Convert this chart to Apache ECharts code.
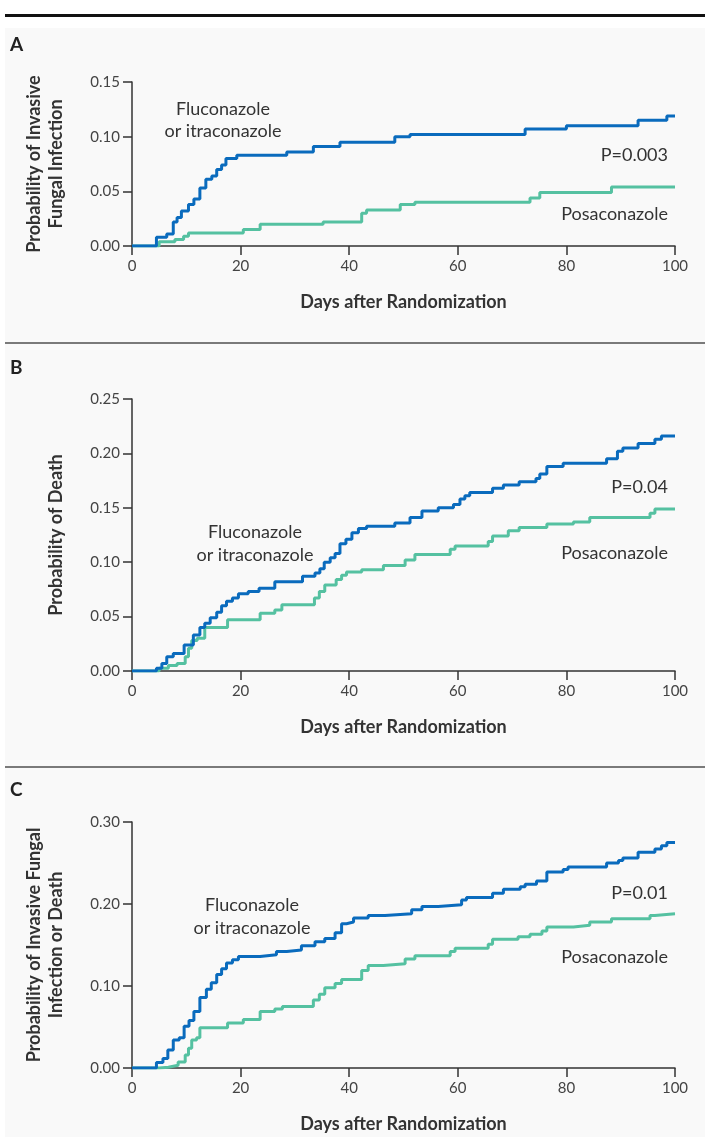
<!DOCTYPE html>
<html>
<head>
<meta charset="utf-8">
<script src="https://cdn.jsdelivr.net/npm/echarts@6/dist/echarts.min.js"></script>
<style>
  html, body { margin: 0; padding: 0; background: #fff; }
  #chart { width: 705px; height: 1137px; }
</style>
</head>
<body>
<div id="chart"></div>
<script>
// panel A: invasive fungal infection
var aFluDays = [0, 4.5, 6.4, 7.6, 8.3, 9.1, 10.4, 11.4, 12.5, 13.6, 14.7, 15.6, 16.5, 17.3, 19.3, 28.5, 33.4, 38.3, 48.4, 51.2, 72.4, 80.0, 93.2, 98.5, 100];
var aFluProb = [0, 0.008, 0.011, 0.022, 0.026, 0.032, 0.038, 0.043, 0.053, 0.061, 0.064, 0.070, 0.074, 0.080, 0.083, 0.086, 0.091, 0.095, 0.100, 0.102, 0.107, 0.110, 0.115, 0.119, 0.119];
var aPosDays = [0, 5.0, 7.9, 9.5, 10.4, 20.5, 23.6, 35.2, 42.3, 43.2, 49.4, 52.1, 73.3, 75.1, 88.3, 100];
var aPosProb = [0, 0.004, 0.006, 0.009, 0.012, 0.015, 0.020, 0.022, 0.030, 0.033, 0.038, 0.040, 0.044, 0.049, 0.054, 0.054];

// panel B: death
var bFluDays = [0, 4.5, 5.5, 6.4, 7.6, 9.6, 11.3, 12.5, 13.4, 14.4, 15.6, 16.5, 17.4, 18.5, 19.6, 21.4, 23.4, 26.3, 31.4, 33.7, 34.6, 35.4, 36.5, 37.4, 38.3, 39.4, 40.5, 41.7, 43.2, 48.4, 51.2, 53.4, 56.4, 59.2, 60.4, 61.3, 62.2, 66.4, 68.4, 71.3, 74.4, 75.1, 76.4, 79.4, 87.4, 89.4, 90.4, 93.2, 96.3, 97.5, 100];
var bFluProb = [0, 0.0025, 0.007, 0.013, 0.016, 0.024, 0.033, 0.040, 0.044, 0.049, 0.054, 0.060, 0.064, 0.067, 0.071, 0.073, 0.076, 0.082, 0.087, 0.090, 0.094, 0.100, 0.104, 0.108, 0.117, 0.121, 0.127, 0.131, 0.133, 0.136, 0.141, 0.147, 0.150, 0.153, 0.158, 0.161, 0.164, 0.168, 0.171, 0.174, 0.177, 0.181, 0.188, 0.191, 0.195, 0.202, 0.205, 0.209, 0.213, 0.216, 0.216];
var bPosDays = [0, 5.0, 6.7, 8.3, 9.8, 10.4, 11.0, 12.0, 13.4, 17.6, 23.6, 26.3, 27.6, 33.6, 34.5, 35.5, 37.6, 38.6, 39.5, 42.3, 46.3, 50.3, 52.1, 58.6, 59.5, 65.6, 66.4, 69.3, 71.3, 76.4, 81.3, 84.3, 95.4, 96.3, 100];
var bPosProb = [0, 0.0025, 0.005, 0.007, 0.013, 0.021, 0.028, 0.030, 0.040, 0.047, 0.053, 0.056, 0.061, 0.067, 0.073, 0.079, 0.084, 0.088, 0.091, 0.093, 0.097, 0.102, 0.107, 0.112, 0.115, 0.119, 0.124, 0.129, 0.132, 0.135, 0.137, 0.141, 0.145, 0.149, 0.149];

// panel C: invasive fungal infection or death
var cFluDays = [0, 4.5, 5.7, 6.6, 7.6, 8.7, 9.6, 10.5, 11.4, 12.5, 13.7, 14.6, 15.6, 16.5, 17.4, 18.5, 19.6, 23.6, 26.6, 28.5, 31.2, 33.7, 35.5, 37.4, 38.6, 39.5, 40.8, 43.5, 46.6, 51.5, 53.4, 56.4, 60.7, 61.6, 66.4, 68.4, 71.5, 72.4, 74.5, 76.4, 79.4, 80.3, 87.4, 89.6, 90.4, 93.2, 96.3, 97.5, 98.5, 100];
var cFluProb = [0, 0.0066, 0.0115, 0.022, 0.034, 0.037, 0.051, 0.058, 0.069, 0.086, 0.096, 0.104, 0.114, 0.121, 0.128, 0.132, 0.136, 0.138, 0.142, 0.144, 0.149, 0.154, 0.158, 0.165, 0.176, 0.178, 0.183, 0.186, 0.188, 0.193, 0.197, 0.199, 0.205, 0.208, 0.213, 0.218, 0.221, 0.224, 0.228, 0.239, 0.242, 0.245, 0.250, 0.253, 0.256, 0.263, 0.267, 0.271, 0.275, 0.275];
var cPosDays = [0, 5.0, 6.7, 8.5, 9.8, 10.4, 11.0, 11.9, 12.5, 17.6, 20.5, 23.6, 26.3, 27.7, 33.4, 34.5, 35.5, 37.4, 38.6, 42.3, 43.5, 46.3, 50.3, 52.1, 58.6, 59.5, 65.6, 66.4, 71.1, 73.3, 75.5, 76.4, 81.3, 84.3, 88.3, 95.4, 96.3, 100];
var cPosProb = [0, 0.001, 0.0033, 0.0074, 0.016, 0.024, 0.034, 0.037, 0.049, 0.055, 0.059, 0.069, 0.072, 0.075, 0.083, 0.090, 0.098, 0.103, 0.108, 0.119, 0.125, 0.127, 0.133, 0.137, 0.142, 0.146, 0.151, 0.157, 0.160, 0.163, 0.167, 0.172, 0.174, 0.178, 0.182, 0.186, 0.188, 0.188];

var yMax = [0.15, 0.25, 0.30];
var yStep = [0.05, 0.05, 0.10];
var yTitles = ['Probability of Invasive\nFungal Infection', 'Probability of Death', 'Probability of Invasive Fungal\nInfection or Death'];
var xTitle = 'Days after Randomization';
var pValues = ['P=0.003', 'P=0.04', 'P=0.01'];

var BLUE = '#0a6bbd';
var GREEN = '#55c1a1';
var FONT = 'Lato';

function zip(days, prob) {
  return days.map(function (d, i) { return [d, prob[i]]; });
}

var myChart = echarts.init(document.getElementById('chart'));

var grids = [
  { left: 132, width: 543, top: 82, height: 164 },
  { left: 132, width: 543, top: 399, height: 272 },
  { left: 132, width: 543, top: 822, height: 246 }
];

var xAxes = [], yAxes = [];
for (var i = 0; i < 3; i++) {
  xAxes.push({
    type: 'value', gridIndex: i, min: 0, max: 100, interval: 20,
    axisLine: { lineStyle: { color: '#333', width: 1.5 } },
    axisTick: { length: 9, lineStyle: { color: '#333', width: 1.5 } },
    axisLabel: { color: '#444', fontSize: 15, fontFamily: FONT, margin: 13 },
    splitLine: { show: false },
    name: xTitle, nameLocation: 'middle', nameGap: 47,
    nameTextStyle: { color: '#333', fontSize: 18, fontWeight: 'bold', fontFamily: FONT }
  });
  yAxes.push({
    type: 'value', gridIndex: i, min: 0, max: yMax[i], interval: yStep[i],
    axisLine: { show: true, lineStyle: { color: '#333', width: 1.5 } },
    axisTick: { show: true, length: 9, lineStyle: { color: '#333', width: 1.5 } },
    axisLabel: { color: '#444', fontSize: 15, fontFamily: FONT, margin: 12,
      formatter: function (v) { return v.toFixed(2); } },
    splitLine: { show: false },
    name: yTitles[i], nameLocation: 'middle', nameGap: 65,
    nameTextStyle: { color: '#333', fontSize: 18, fontWeight: 'bold', fontFamily: FONT, lineHeight: 22 }
  });
}

function km(name, color, idx, days, prob) {
  return {
    name: name, type: 'line', step: 'end', xAxisIndex: idx, yAxisIndex: idx,
    data: zip(days, prob), showSymbol: false, silent: true,
    lineStyle: { color: color, width: 3 }, z: color === BLUE ? 4 : 3
  };
}

function txt(x, y, s, align, opts) {
  return {
    type: 'text', x: x, y: y, silent: true,
    style: Object.assign({ text: s, fill: '#333', fontSize: 18, fontFamily: FONT,
      align: align, verticalAlign: 'middle' }, opts || {})
  };
}

var option = {
  backgroundColor: '#f9f9f9',
  animation: false,
  grid: grids,
  xAxis: xAxes,
  yAxis: yAxes,
  series: [
    km('Posaconazole', GREEN, 0, aPosDays, aPosProb),
    km('Fluconazole or itraconazole', BLUE, 0, aFluDays, aFluProb),
    km('Posaconazole', GREEN, 1, bPosDays, bPosProb),
    km('Fluconazole or itraconazole', BLUE, 1, bFluDays, bFluProb),
    km('Posaconazole', GREEN, 2, cPosDays, cPosProb),
    km('Fluconazole or itraconazole', BLUE, 2, cFluDays, cFluProb)
  ],
  graphic: [
    { type: 'rect', shape: { x: 0, y: 0, width: 705, height: 28 }, style: { fill: '#fff' }, silent: true },
    { type: 'rect', shape: { x: 0, y: 0, width: 5, height: 1137 }, style: { fill: '#fff' }, silent: true },
    { type: 'rect', shape: { x: 5, y: 14, width: 700, height: 3 }, style: { fill: '#111' }, silent: true },
    { type: 'rect', shape: { x: 5, y: 342, width: 700, height: 2 }, style: { fill: '#7a7a7a' }, silent: true },
    { type: 'rect', shape: { x: 5, y: 766, width: 700, height: 2 }, style: { fill: '#7a7a7a' }, silent: true },
    txt(10, 45, 'A', 'left', { fontSize: 19, fontWeight: 'bold', fill: '#222' }),
    txt(10, 368, 'B', 'left', { fontSize: 19, fontWeight: 'bold', fill: '#222' }),
    txt(10, 790, 'C', 'left', { fontSize: 19, fontWeight: 'bold', fill: '#222' }),
    txt(223, 109, 'Fluconazole', 'center'),
    txt(223, 131, 'or itraconazole', 'center'),
    txt(668, 155, pValues[0], 'right'),
    txt(668, 214, 'Posaconazole', 'right'),
    txt(255, 532, 'Fluconazole', 'center'),
    txt(255, 555, 'or itraconazole', 'center'),
    txt(668, 487, pValues[1], 'right'),
    txt(668, 553, 'Posaconazole', 'right'),
    txt(252, 905, 'Fluconazole', 'center'),
    txt(252, 928, 'or itraconazole', 'center'),
    txt(668, 893, pValues[2], 'right'),
    txt(668, 957, 'Posaconazole', 'right')
  ]
};

myChart.setOption(option);
</script>
</body>
</html>
